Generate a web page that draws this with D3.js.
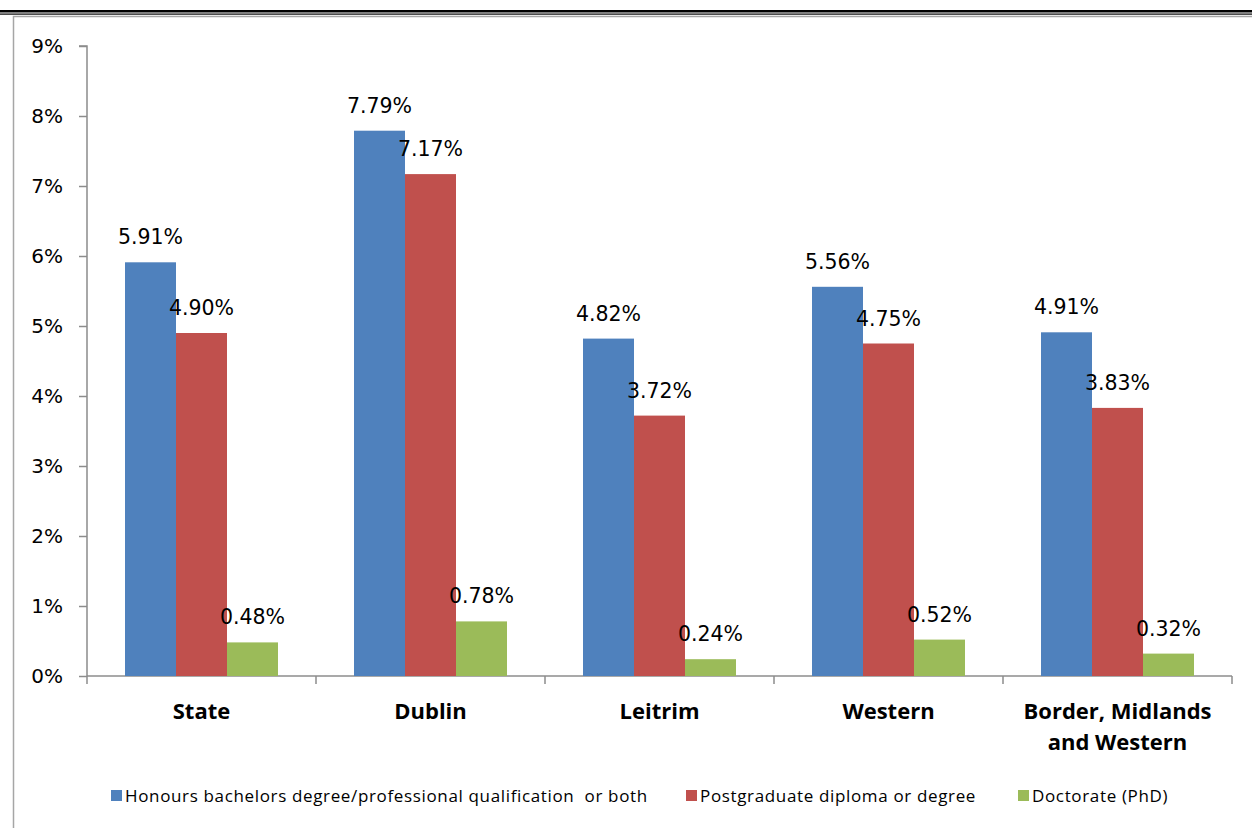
<!DOCTYPE html>
<html><head><meta charset="utf-8">
<script src="https://cdn.jsdelivr.net/npm/d3@7/dist/d3.min.js"></script>
<style>body{margin:0;background:#fff;}svg{display:block;}</style>
</head><body>
<svg id="chart" width="1252" height="828"></svg>
<script>
const categories = [["State"],["Dublin"],["Leitrim"],["Western"],["Border, Midlands","and Western"]];
const seriesNames = ["Honours bachelors degree/professional qualification  or both","Postgraduate diploma or degree","Doctorate (PhD)"];
const honours = [5.91, 7.79, 4.82, 5.56, 4.91];
const postgrad = [4.90, 7.17, 3.72, 4.75, 3.83];
const doctorate = [0.48, 0.78, 0.24, 0.52, 0.32];
const yTicks = [0,1,2,3,4,5,6,7,8,9];
const colors = ["#4F81BD","#C0504D","#9BBB59"];
const series = [honours, postgrad, doctorate];

(function(){
const svg = d3.select("#chart");
// top rules
svg.append("rect").attr("x",0).attr("y",10).attr("width",1252).attr("height",2.5).attr("fill","#000");
svg.append("rect").attr("x",0).attr("y",13.5).attr("width",1252).attr("height",1.2).attr("fill","#000");
// chart border
svg.append("path").attr("d","M13.5,840 V16.5 H1260").attr("fill","none").attr("stroke","#a6a6a6").attr("stroke-width",1.5);

const pL = 87, pR = 1232, pT = 46, pB = 676;
const x0 = d3.scaleBand().domain(d3.range(categories.length)).range([pL,pR]).paddingInner(0).paddingOuter(0);
const inner = 153/229;
const x1 = d3.scaleBand().domain(d3.range(3)).range([0, x0.bandwidth()*inner]);
const y = d3.scaleLinear().domain([0,9]).range([pB, pT]);

// y axis
const yAxis = d3.axisLeft(y).tickValues(yTicks).tickFormat(d=>d+"%").tickSize(8).tickPadding(16);
const gy = svg.append("g").attr("transform",`translate(${pL},0)`).call(yAxis);
gy.select(".domain").attr("stroke","#8c8c8c").attr("stroke-width",1.5).attr("d",`M-8,${pT}H0V${pB}`);
gy.selectAll(".tick line").attr("stroke","#8c8c8c").attr("stroke-width",1.5);
gy.selectAll("text").attr("font-family","DejaVu Sans").attr("font-size",20).attr("fill","#000");

// x axis
svg.append("line").attr("x1",pL).attr("x2",pR).attr("y1",pB).attr("y2",pB).attr("stroke","#8c8c8c").attr("stroke-width",1.5);
const bounds = d3.range(categories.length+1).map(i=> i<categories.length ? x0(i) : x0(i-1)+x0.bandwidth());
svg.selectAll(".xt").data(bounds).enter().append("line")
  .attr("x1",d=>d).attr("x2",d=>d).attr("y1",pB).attr("y2",pB+8)
  .attr("stroke","#8c8c8c").attr("stroke-width",1.5);

const groupOffset = x0.bandwidth()*(1-inner)/2;
const groups = svg.selectAll(".grp").data(categories).enter().append("g")
  .attr("transform",(d,i)=>`translate(${x0(i)+groupOffset},0)`);

series.forEach((vals,s)=>{
  groups.append("rect")
    .attr("x",x1(s)).attr("width",x1.bandwidth())
    .attr("y",(d,i)=>y(vals[i])).attr("height",(d,i)=>pB-y(vals[i]))
    .attr("fill",colors[s]);
});
series.forEach((vals,s)=>{
  groups.append("text")
    .attr("x",x1(s)+x1.bandwidth()/2)
    .attr("y",(d,i)=>y(vals[i])-18)
    .attr("text-anchor","middle")
    .attr("font-family","DejaVu Sans").attr("font-size",20.5).attr("fill","#000")
    .text((d,i)=>vals[i].toFixed(2)+"%");
});

// category labels
categories.forEach((lines,i)=>{
  const cx = x0(i)+x0.bandwidth()/2;
  const t = svg.append("text").attr("x",cx).attr("text-anchor","middle")
    .attr("font-family","Open Sans").attr("font-weight","bold").attr("font-size",22).attr("fill","#000");
  lines.forEach((l,j)=> t.append("tspan").attr("x",cx).attr("y",719+j*31).text(l));
});

// legend
const legX = [111, 686, 1018];
seriesNames.forEach((n,s)=>{
  svg.append("rect").attr("x",legX[s]).attr("y",790).attr("width",11).attr("height",11).attr("fill",colors[s]);
  svg.append("text").attr("x",legX[s]+14).attr("y",802).attr("font-family","Open Sans").attr("font-size",17).attr("letter-spacing",0.65).attr("fill","#000").style("white-space","pre").text(n);
});
})();
</script>
</body></html>
